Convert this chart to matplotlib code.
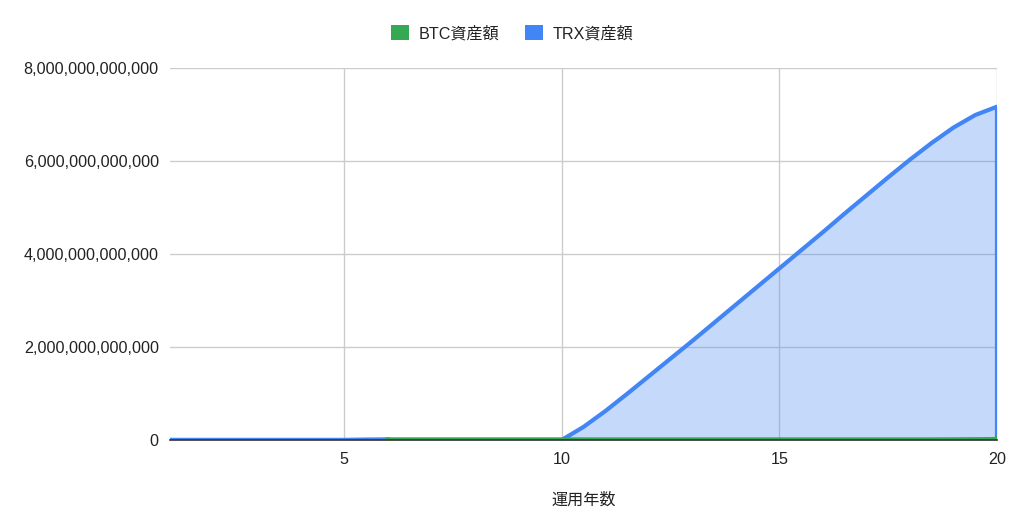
import numpy as np
import matplotlib
matplotlib.use("Agg")
import matplotlib.pyplot as plt
from matplotlib.patches import Patch
from matplotlib.ticker import FuncFormatter, MultipleLocator

plt.rcParams["font.family"] = ["Liberation Sans", "Noto Sans CJK JP", "DejaVu Sans"]

BLUE = "#4285F4"; GREEN = "#34A853"; GRID = "#cccccc"; TXT = "#222222"

# ── data (half-year steps, trillions) ────────────────────────────────────────
years = [1, 1.5, 2, 2.5, 3, 3.5, 4, 4.5, 5, 5.5, 6, 6.5, 7, 7.5, 8, 8.5, 9, 9.5,
         10, 10.5, 11, 11.5, 12, 12.5, 13, 13.5, 14, 14.5, 15, 15.5, 16, 16.5,
         17, 17.5, 18, 18.5, 19, 19.5, 20, 20]
trx_t = [0, 0, 0, 0, 0, 0, 0, 0, 0, 0, 0, 0, 0, 0, 0, 0, 0, 0,
         0, 0.28, 0.62, 0.99, 1.37, 1.75, 2.13, 2.52, 2.91, 3.30, 3.69, 4.08,
         4.47, 4.87, 5.26, 5.65, 6.03, 6.39, 6.72, 6.99, 7.17, 0]
btc_t = [0, 0, 0, 0, 0, 0, 0, 0, 0, 0.008, 0.012, 0.012, 0.012, 0.012, 0.012,
         0.012, 0.012, 0.012, 0.012, 0.012, 0.012, 0.012, 0.012, 0.012, 0.012,
         0.012, 0.012, 0.012, 0.012, 0.012, 0.012, 0.012, 0.012, 0.012, 0.012,
         0.012, 0.014, 0.016, 0.020, 0.040]

x = np.array(years)
trx = np.array(trx_t) * 1e12
btc = np.array(btc_t) * 1e12

fig = plt.figure(figsize=(10.24, 5.32), dpi=100)
ax = fig.add_axes([0.166, 0.173, 0.8076, 0.699])

ax.fill_between(x, btc, color=GREEN, alpha=0.3, lw=0, zorder=2)
ax.fill_between(x, trx, color=BLUE, alpha=0.3, lw=0, zorder=2)
ax.plot(x, trx, color=BLUE, lw=3, solid_capstyle="round",
        solid_joinstyle="round", zorder=3)
# BTC is drawn on top from year 6 on, where it sits just above TRX
ax.plot(x[:11], btc[:11], color=GREEN, lw=3, zorder=2.5)
ax.plot(x[10:], btc[10:], color=GREEN, lw=3, zorder=4)

ax.set_xlim(1, 20)
ax.set_ylim(0, 8e12)
ax.xaxis.set_major_locator(MultipleLocator(5))
ax.yaxis.set_major_locator(MultipleLocator(2e12))
ax.yaxis.set_major_formatter(FuncFormatter(lambda v, p: f"{v:,.0f}"))
ax.grid(True, color=GRID, lw=1, zorder=0)
for s in ("top", "right", "left"):
    ax.spines[s].set_visible(False)
ax.spines["bottom"].set_color("#333333")
ax.spines["bottom"].set_linewidth(1.2)
ax.spines["bottom"].set_zorder(5)
ax.tick_params(length=0, labelsize=11.6, colors=TXT)
ax.tick_params(axis="y", pad=8)
ax.tick_params(axis="x", pad=9)
ax.set_xlabel("運用年数", fontsize=11.6, color=TXT, labelpad=18)

handles = [Patch(facecolor=GREEN, label="BTC資産額"),
           Patch(facecolor=BLUE, label="TRX資産額")]
fig.legend(handles=handles, loc="center", bbox_to_anchor=(0.5, 0.938), ncol=2,
           frameon=False, fontsize=11.6, handlelength=1.1, handleheight=1.1,
           handletextpad=0.6, columnspacing=1.6, labelcolor=TXT)

fig.savefig("out.png", dpi=100)
